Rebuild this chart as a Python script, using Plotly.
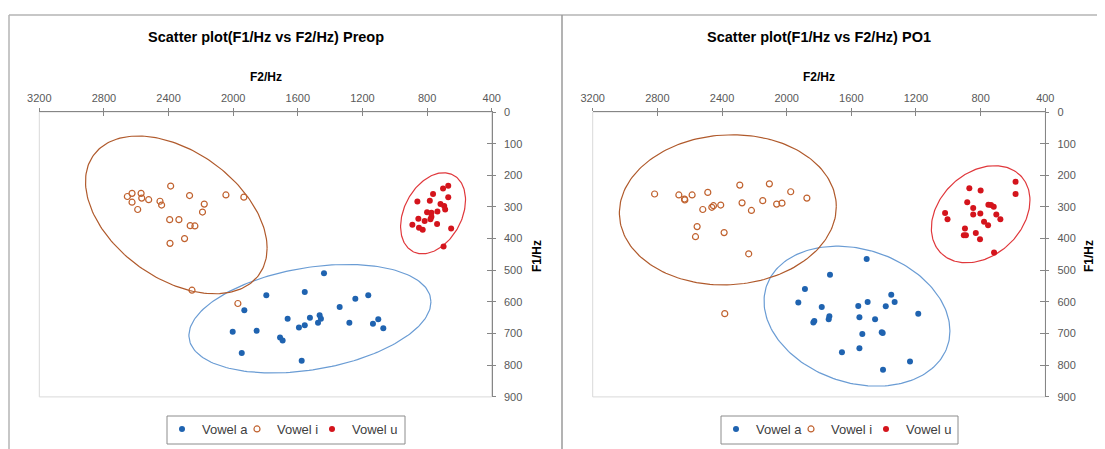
import numpy as np
import plotly.graph_objects as go

# ---- data ----
series_names = ["Vowel a", "Vowel i", "Vowel u"]
x_ticks = [3200, 2800, 2400, 2000, 1600, 1200, 800, 400]
y_ticks = [0, 100, 200, 300, 400, 500, 600, 700, 800, 900]

# Preop
preop_a_f2 = [1438, 1795, 1557, 1931, 1663, 2003, 1855, 1947, 1710, 1694, 1593, 1557,
              1525, 1465, 1457, 1475, 1576, 1341, 1244, 1164, 1281, 1135, 1102, 1071]
preop_a_f1 = [509, 579, 569, 626, 653, 694, 691, 761, 712, 722, 681, 674,
              650, 642, 653, 666, 786, 616, 590, 579, 666, 669, 655, 683]
preop_i_f2 = [2655, 2626, 2626, 2591, 2570, 2566, 2523, 2453, 2443, 2387, 2393, 2336,
              2391, 2301, 2270, 2266, 2237, 2190, 2179, 2045, 1934, 2255, 1971]
preop_i_f1 = [267, 257, 285, 308, 257, 272, 277, 282, 294, 234, 340, 340,
              415, 400, 264, 359, 360, 316, 291, 262, 269, 563, 605]
preop_u_f2 = [669, 701, 763, 669, 860, 783, 717, 694, 688, 800, 773, 736,
              773, 779, 854, 815, 738, 891, 850, 827, 651, 698]
preop_u_f1 = [233, 242, 259, 269, 283, 280, 291, 297, 308, 317, 318, 314,
              331, 339, 337, 344, 354, 356, 366, 372, 368, 425]

# PO1
po1_a_f2 = [1505, 1732, 1887, 1928, 1783, 1835, 1829, 1736, 1740, 1557, 1499, 1550,
            1453, 1387, 1353, 1332, 1186, 1532, 1412, 1406, 1658, 1550, 1404, 1237]
po1_a_f1 = [464, 514, 559, 602, 616, 665, 660, 645, 655, 613, 600, 648,
            655, 614, 577, 600, 637, 701, 696, 698, 759, 746, 814, 788]
po1_i_f2 = [2817, 2667, 2632, 2630, 2585, 2488, 2519, 2463, 2453, 2408, 2554, 2564,
            2387, 2290, 2276, 2218, 2235, 2148, 2107, 2062, 2029, 1975, 1875, 2383]
po1_i_f1 = [259, 262, 275, 278, 262, 254, 308, 301, 296, 294, 362, 394,
            381, 231, 287, 311, 448, 280, 227, 291, 288, 252, 272, 637]
po1_u_f2 = [584, 584, 870, 800, 883, 846, 752, 736, 719, 846, 802, 703,
            678, 1020, 1005, 779, 754, 897, 904, 891, 830, 804, 717]
po1_u_f1 = [220, 259, 241, 248, 285, 303, 293, 294, 299, 324, 321, 324,
            339, 319, 339, 347, 358, 368, 389, 389, 382, 402, 444]

# ellipses: centre (F2, F1) and two conjugate half-axes (dF2, dF1)
preop_a_ell = [1525, 653, -749, -53, 0, 163]
preop_i_ell = [2352, 325, -562, 105, 0, 226]
preop_u_ell = [763, 320, -201, -42, 0, 121]
po1_a_ell = [1565, 645, -575, 47, 0, 216]
po1_i_ell = [2364, 309, -671, -10, 0, 237]
po1_u_ell = [800, 323, -305, -44, 0, 147]

# ---- styling ----
BLUE = "#1f63b0"
BROWN = "#c0622f"
RED = "#d4141c"
ELL_COLORS = ["#6a9cd4", "#b05a2c", "#e0383c"]
AXIS_GREY = "#868686"
FONT = "Liberation Sans, Arial, sans-serif"
TICK_FONT = dict(family=FONT, size=11, color="#595959")

# the page body keeps its default 8px margin, so the figure is sized to the rest of the window
OFF = 8
W, H = 1105 - OFF, 449 - OFF


def px_x(p):
    return (p - OFF) / W


def px_y(p):
    return 1 - (p - OFF) / H


def ellipse(params, n=200):
    cx, cy, ax, ay, bx, by = params
    t = np.linspace(0, 2 * np.pi, n)
    return cx + ax * np.cos(t) + bx * np.sin(t), cy + ay * np.cos(t) + by * np.sin(t)


panels = [
    dict(title="Scatter plot(F1/Hz vs F2/Hz) Preop", x0=39.3, x1=491.7, xa="x", ya="y", legend="legend",
         pts=[(preop_a_f2, preop_a_f1), (preop_i_f2, preop_i_f1), (preop_u_f2, preop_u_f1)],
         ells=[preop_a_ell, preop_i_ell, preop_u_ell], ytitle_x=537, leg_box=(167, 405)),
    dict(title="Scatter plot(F1/Hz vs F2/Hz) PO1", x0=592.7, x1=1045.3, xa="x2", ya="y2", legend="legend2",
         pts=[(po1_a_f2, po1_a_f1), (po1_i_f2, po1_i_f1), (po1_u_f2, po1_u_f1)],
         ells=[po1_a_ell, po1_i_ell, po1_u_ell], ytitle_x=1089, leg_box=(721, 958)),
]

markers = [
    dict(symbol="circle", size=6, color=BLUE),
    dict(symbol="circle-open", size=6, color=BROWN, line=dict(width=1.2, color=BROWN)),
    dict(symbol="circle", size=6, color=RED),
]

fig = go.Figure()
y_top, y_bot = 112, 396.9
layout = dict(width=W, height=H, margin=dict(l=0, r=0, t=0, b=0, autoexpand=False),
              plot_bgcolor="white", paper_bgcolor="white", showlegend=True)
annotations = []
shapes = []

for i, p in enumerate(panels):
    suffix = "" if i == 0 else str(i + 1)
    # ellipses
    for ell, col in zip(p["ells"], ELL_COLORS):
        ex, ey = ellipse(ell)
        fig.add_trace(go.Scatter(x=ex, y=ey, mode="lines", line=dict(color=col, width=1.2),
                                 hoverinfo="skip", showlegend=False, xaxis=p["xa"], yaxis=p["ya"]))
    # points
    for (xs, ys), name, mk in zip(p["pts"], series_names, markers):
        fig.add_trace(go.Scatter(x=xs, y=ys, mode="markers", name=name, marker=mk,
                                 xaxis=p["xa"], yaxis=p["ya"], legend=p["legend"]))
    # empty spacer entry so the last legend label is not clipped
    fig.add_trace(go.Scatter(x=[None], y=[None], mode="markers", name=" ",
                             marker=dict(color="rgba(0,0,0,0)"), hoverinfo="skip",
                             xaxis=p["xa"], yaxis=p["ya"], legend=p["legend"]))

    common = dict(showgrid=False, zeroline=False, showline=True, linecolor=AXIS_GREY, linewidth=1,
                  ticks="outside", ticklen=3, tickcolor=AXIS_GREY, tickfont=TICK_FONT)
    layout["xaxis" + suffix] = dict(domain=[px_x(p["x0"]), px_x(p["x1"])], anchor=p["ya"], side="top",
                                    range=[3200, 400], tickvals=x_ticks, ticklabelstandoff=2, **common)
    layout["yaxis" + suffix] = dict(domain=[px_y(y_bot), px_y(y_top)], anchor=p["xa"], side="right",
                                    range=[900, 0], tickvals=y_ticks, ticklabelstandoff=6, **common)
    # overlay axes for the inner half of the cross ticks
    ox, oy = "x" + str(i + 3), "y" + str(i + 3)
    layout["xaxis" + str(i + 3)] = dict(domain=[px_x(p["x0"]), px_x(p["x1"])], anchor=oy, side="top",
                                        overlaying=p["xa"], range=[3200, 400], tickvals=x_ticks,
                                        ticks="inside", ticklen=4, tickcolor=AXIS_GREY,
                                        showticklabels=False, showgrid=False, zeroline=False, showline=False)
    layout["yaxis" + str(i + 3)] = dict(domain=[px_y(y_bot), px_y(y_top)], anchor=ox, side="right",
                                        overlaying=p["ya"], range=[900, 0], tickvals=y_ticks,
                                        ticks="inside", ticklen=5, tickcolor=AXIS_GREY,
                                        showticklabels=False, showgrid=False, zeroline=False, showline=False)
    fig.add_trace(go.Scatter(x=[None], y=[None], xaxis=ox, yaxis=oy, showlegend=False, hoverinfo="skip"))

    # plot-area border
    shapes.append(dict(type="rect", xref=p["xa"] + " domain", yref=p["ya"] + " domain", x0=0, x1=1, y0=0, y1=1,
                       line=dict(color="#d9d9d9", width=1), layer="below"))

    cx = px_x((p["x0"] + p["x1"]) / 2)
    annotations.append(dict(text="<b>" + p["title"] + "</b>", x=cx, y=px_y(37), xref="paper", yref="paper",
                            xanchor="center", yanchor="middle", showarrow=False,
                            font=dict(family=FONT, size=14.5, color="#000000")))
    annotations.append(dict(text="<b>F2/Hz</b>", x=cx, y=px_y(77), xref="paper", yref="paper",
                            xanchor="center", yanchor="middle", showarrow=False,
                            font=dict(family=FONT, size=12, color="#000000")))
    annotations.append(dict(text="<b>F1/Hz</b>", x=px_x(p["ytitle_x"]), y=px_y(256), xref="paper", yref="paper",
                            xanchor="center", yanchor="middle", textangle=-90, showarrow=False,
                            font=dict(family=FONT, size=12, color="#000000")))

    # legend: entries packed tight, box drawn as a shape
    lx0, lx1 = p["leg_box"]
    layout[p["legend"]] = dict(orientation="h", x=px_x(lx0 - 5), xanchor="left", y=px_y(414), yanchor="top",
                               bgcolor="rgba(0,0,0,0)", borderwidth=0,
                               font=dict(family=FONT, size=13, color="#404040"),
                               itemwidth=30, entrywidth=30, entrywidthmode="pixels", tracegroupgap=0)
    shapes.append(dict(type="rect", xref="paper", yref="paper", x0=px_x(lx0), x1=px_x(lx1),
                       y0=px_y(444), y1=px_y(416), line=dict(color="#8c8c8c", width=1), fillcolor="white",
                       layer="below"))

# chart-area frames
frame = dict(color="#b4b4b4", width=1.5)
shapes.append(dict(type="line", xref="paper", yref="paper", x0=px_x(9), x1=1, y0=px_y(15), y1=px_y(15), line=frame))
shapes.append(dict(type="line", xref="paper", yref="paper", x0=px_x(9), x1=px_x(9), y0=px_y(15), y1=0, line=frame))
shapes.append(dict(type="line", xref="paper", yref="paper", x0=px_x(562), x1=px_x(562), y0=px_y(15), y1=0,
                   line=dict(color="#9a9a9a", width=1.5)))

layout["annotations"] = annotations
layout["shapes"] = shapes
fig.update_layout(**layout)

fig.write_html("out.html")
